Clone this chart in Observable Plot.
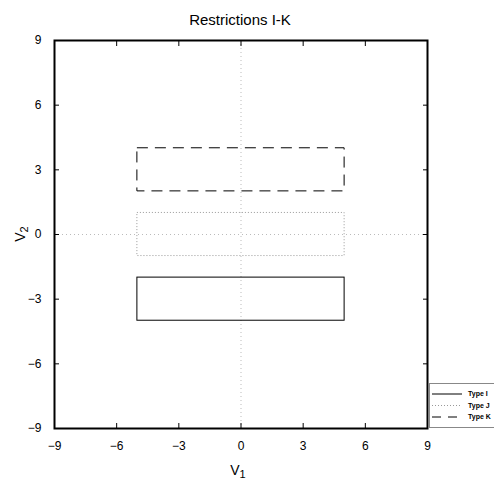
<!DOCTYPE html>
<html>
<head>
<meta charset="utf-8">
<script src="https://cdn.jsdelivr.net/npm/d3@7"></script>
<script src="https://cdn.jsdelivr.net/npm/@observablehq/plot@0.6"></script>
<style>
  html, body { margin: 0; padding: 0; background: #fff; overflow: hidden; }
  svg { font-family: "Liberation Sans", Arial, sans-serif; }
</style>
</head>
<body>
<div id="chart"></div>
<script>
// ---- data ----
const types = ["Type I", "Type J", "Type K"];
const xLow  = [-5, -5, -5];
const xHigh = [5, 5, 5];
const yLow  = [-4, -1, 2];
const yHigh = [-2, 1, 4];
const tickValues = [-9, -6, -3, 0, 3, 6, 9];
const titleText = "Restrictions I-K";

// ---- styles (kept separate) ----
const styleOf = {
  "Type I": {stroke: "#000", dash: null, width: 1},
  "Type J": {stroke: "#999", dash: "1,2", width: 1},
  "Type K": {stroke: "#000", dash: "11,7", width: 1}
};

const rects = types.map((t, i) => ({type: t, x1: xLow[i], x2: xHigh[i], y1: yLow[i], y2: yHigh[i]}));
const fmt = d => d < 0 ? "\u2212" + (-d) : String(d);

const W = 494, H = 487;
const plot = Plot.plot({
  width: W, height: H,
  marginLeft: 54, marginRight: 67, marginTop: 40, marginBottom: 59,
  style: {fontSize: "12px", fontFamily: "Liberation Sans, Arial, sans-serif", background: "#fff", overflow: "hidden", color: "#000"},
  x: {domain: [-9, 9], ticks: tickValues},
  y: {domain: [-9, 9], ticks: tickValues},
  marks: [
    Plot.ruleX([0], {stroke: "#bbb", strokeDasharray: "1,3"}),
    Plot.ruleY([0], {stroke: "#bbb", strokeDasharray: "1,3"}),
    ...rects.map(r => Plot.rect([r], {
      x1: "x1", x2: "x2", y1: "y1", y2: "y2", fill: "none",
      stroke: styleOf[r.type].stroke, strokeDasharray: styleOf[r.type].dash,
      strokeWidth: styleOf[r.type].width
    })),
    Plot.axisX(tickValues, {anchor: "bottom", tickSize: -5, text: null, label: null}),
    Plot.axisX(tickValues, {anchor: "top", tickSize: -5, text: null, label: null}),
    Plot.axisY(tickValues, {anchor: "left", tickSize: -5, text: null, label: null}),
    Plot.axisY(tickValues, {anchor: "right", tickSize: -5, text: null, label: null}),
    Plot.axisX(tickValues, {anchor: "bottom", tickSize: 0, tickPadding: 13, label: null, tickFormat: fmt, fontSize: 12}),
    Plot.axisY(tickValues, {anchor: "left", tickSize: 0, tickPadding: 13, label: null, tickFormat: fmt, fontSize: 12}),
    Plot.frame({stroke: "#000", strokeWidth: 2})
  ]
});

const svg = d3.select(plot);
// title
svg.append("text").attr("x", 240).attr("y", 25).attr("text-anchor", "middle").attr("fill", "#000")
  .style("font-size", "15px").text(titleText);
// x label
const xl = svg.append("text").attr("x", 238).attr("y", 475).attr("text-anchor", "middle").attr("fill", "#000").style("font-size", "14px");
xl.append("tspan").text("V");
xl.append("tspan").attr("dy", 3).style("font-size", "11px").text("1");
// y label
const yl = svg.append("text").attr("transform", "translate(25,234) rotate(-90)").attr("text-anchor", "middle").attr("fill", "#000").style("font-size", "14px");
yl.append("tspan").text("V");
yl.append("tspan").attr("dy", 3).style("font-size", "11px").text("2");

// legend
const lg = svg.append("g");
lg.append("rect").attr("x", 429.5).attr("y", 383.5).attr("width", 90).attr("height", 44)
  .attr("fill", "#fff").attr("stroke", "#888");
types.forEach((t, i) => {
  const yy = 394 + i * 11.5;
  const s = styleOf[t];
  lg.append("line").attr("x1", 432).attr("x2", 462).attr("y1", yy).attr("y2", yy)
    .attr("stroke", s.stroke).attr("stroke-dasharray", s.dash === "11,7" ? "9,7" : s.dash);
  lg.append("text").attr("x", 468).attr("y", yy).attr("dy", "0.35em").attr("text-anchor", "start").attr("fill", "#000")
    .style("font-size", "7px").style("font-weight", "bold").text(t);
});

document.getElementById("chart").appendChild(plot);
</script>
</body>
</html>
